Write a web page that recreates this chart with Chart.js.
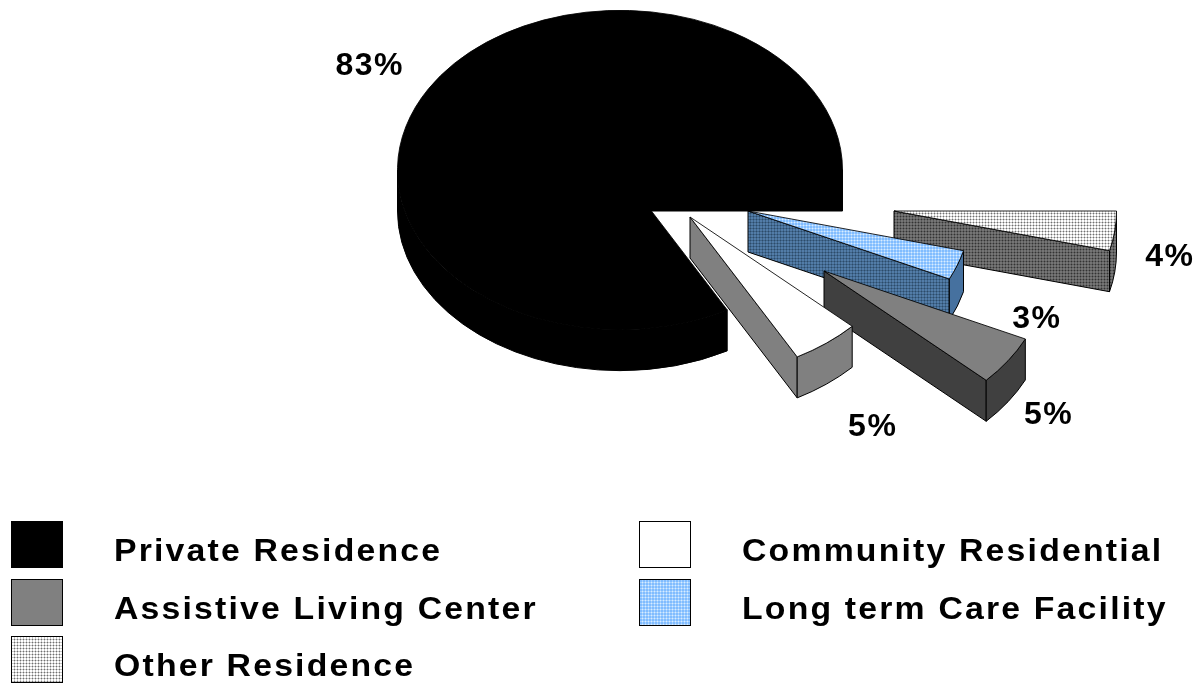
<!DOCTYPE html>
<html>
<head>
<meta charset="utf-8">
<script src="https://cdn.jsdelivr.net/npm/chart.js@4"></script>
<style>
body { margin: 0; background: #fff; }
#wrap { position: relative; width: 1199px; height: 683px; overflow: hidden; }
#chart { position: absolute; left: 0; top: 0; }
#legend {
    position: absolute; left: 11px; top: 521px;
    display: grid; grid-auto-flow: column;
    grid-template-rows: repeat(3, 57.5px); grid-template-columns: 628px 500px;
    font: bold 31px "Liberation Sans", sans-serif; letter-spacing: 2px; color: #000;
}
.item { display: flex; align-items: flex-start; white-space: nowrap; }
.item canvas { display: block; margin-right: 51px; }
.item span { position: relative; top: 10px; line-height: 40px; transform: scaleX(1.09); transform-origin: left center; }
</style>
</head>
<body>
<div id="wrap">
    <canvas id="chart" width="1199" height="683"></canvas>
    <div id="legend"></div>
</div>
<script>
// slices run clockwise from 3 o'clock
const categories = ['Other Residence', 'Long term Care Facility', 'Assistive Living Center', 'Community Residential', 'Private Residence'];
const percents = [4, 3, 5, 5, 83];
const legendOrder = ['Private Residence', 'Assistive Living Center', 'Other Residence', 'Community Residential', 'Long term Care Facility'];

// look of the fake 3d
const tilt = 160 / 223;
const depth = 41;
const explode = [[274, 41], [128, 41], [204, 101], [70, 47], [0, 0]];
const labelReach = [1.25, 1.38, 1.22, 1.34, 1.307];
const labelDrop = [21, 34, 35, 41, 2];
const paintOrder = [4, 0, 1, 2, 3];

// small gingham tile, the reference has these in place of flat fills
function gingham(base, line, dot, squash) {
    const tile = document.createElement('canvas');
    tile.width = tile.height = 3;
    const c = tile.getContext('2d');
    c.fillStyle = base;
    c.fillRect(0, 0, 3, 3);
    c.fillStyle = line;
    c.fillRect(0, 0, 3, 1);
    c.fillRect(0, 0, 1, 3);
    c.fillStyle = dot;
    c.fillRect(0, 0, 1, 1);
    const p = c.createPattern(tile, 'repeat');
    if (squash) p.setTransform(new DOMMatrix([1, 0, 0, 1 / tilt, 0, 0]));
    return p;
}

const greySide = gingham('#757575', '#5c5c5c', '#333333');
const blueSide = gingham('#527ca8', '#3f6488', '#2c4a6a');
const topColors = [gingham('#ffffff', '#c8c8c8', '#707070', true), gingham('#80bcff', '#a8d2ff', '#d8ecff', true), '#808080', '#ffffff', '#000000'];
const cutColors = [greySide, blueSide, '#404040', '#808080', '#000000'];
const rimColors = [greySide, '#46719f', '#404040', '#808080', '#000000'];
const swatches = {
    'Private Residence': '#000000',
    'Assistive Living Center': '#808080',
    'Other Residence': gingham('#ffffff', '#c8c8c8', '#707070'),
    'Community Residential': '#ffffff',
    'Long term Care Facility': gingham('#80bcff', '#a8d2ff', '#d8ecff')
};

function sideFace(ctx, pts, fill) {
    ctx.beginPath();
    pts.forEach((p, i) => i ? ctx.lineTo(p[0], p[1]) : ctx.moveTo(p[0], p[1]));
    ctx.closePath();
    ctx.fillStyle = fill;
    ctx.fill();
    ctx.strokeStyle = '#000';
    ctx.lineWidth = 1;
    ctx.stroke();
}

const pie3d = {
    id: 'pie3d',
    beforeDatasetDraw(chart, args) {
        const ctx = chart.ctx;
        const arcs = args.meta.data;
        paintOrder.forEach(i => {
            const arc = arcs[i];
            const rx = arc.outerRadius, ry = rx * tilt;
            const ax = arc.x + explode[i][0], ay = 170 + explode[i][1];
            const a0 = arc.startAngle, a1 = arc.endAngle;

            // radial cut on the closing edge faces the viewer
            const ex = ax + Math.cos(a1) * rx, ey = ay + Math.sin(a1) * ry;
            sideFace(ctx, [[ax, ay], [ex, ey], [ex, ey + depth], [ax, ay + depth]], cutColors[i]);

            // outer rim, only the front half of the ellipse shows
            const from = Math.max(a0, 0), to = Math.min(a1, Math.PI);
            if (to > from) {
                ctx.beginPath();
                ctx.ellipse(ax, ay, rx, ry, 0, from, to);
                ctx.ellipse(ax, ay + depth, rx, ry, 0, to, from, true);
                ctx.closePath();
                ctx.fillStyle = rimColors[i];
                ctx.fill();
                ctx.strokeStyle = '#000';
                ctx.lineWidth = 1;
                ctx.stroke();
            }

            ctx.save();
            ctx.translate(explode[i][0], explode[i][1]);
            ctx.transform(1, 0, 0, tilt, 0, 170 - arc.y * tilt);
            arc.draw(ctx);
            ctx.restore();
        });
        return false;
    },
    afterDatasetsDraw(chart) {
        const ctx = chart.ctx;
        const arcs = chart.getDatasetMeta(0).data;
        ctx.save();
        ctx.font = 'bold 32px "Liberation Sans", sans-serif';
        ctx.letterSpacing = '1.5px';
        ctx.fillStyle = '#000';
        ctx.textAlign = 'center';
        ctx.textBaseline = 'middle';
        arcs.forEach((arc, i) => {
            const mid = (arc.startAngle + arc.endAngle) / 2;
            const x = arc.x + explode[i][0] + Math.cos(mid) * arc.outerRadius * labelReach[i];
            const y = 170 + explode[i][1] + Math.sin(mid) * arc.outerRadius * tilt * labelReach[i] + labelDrop[i];
            ctx.fillText(percents[i] + '%', x, y);
        });
        ctx.restore();
    }
};

new Chart(document.querySelector('#chart').getContext('2d'), {
    type: 'pie',
    data: {
        labels: categories,
        datasets: [{
            data: percents,
            backgroundColor: topColors,
            borderColor: '#000000',
            borderWidth: 1
        }]
    },
    options: {
        responsive: false,
        animation: false,
        rotation: 90,
        layout: { padding: { left: 397, right: 356, top: 0, bottom: 237 } },
        plugins: { legend: { display: false }, tooltip: { enabled: false } }
    },
    plugins: [pie3d]
});

const legend = document.querySelector('#legend');
legendOrder.forEach(name => {
    const item = document.createElement('div');
    item.className = 'item';
    const box = document.createElement('canvas');
    box.width = 52;
    box.height = 47;
    const c = box.getContext('2d');
    c.fillStyle = swatches[name];
    c.fillRect(0, 0, 52, 47);
    c.strokeStyle = '#000';
    c.strokeRect(0.5, 0.5, 51, 46);
    const text = document.createElement('span');
    text.textContent = name;
    item.append(box, text);
    legend.append(item);
});
</script>
</body>
</html>
